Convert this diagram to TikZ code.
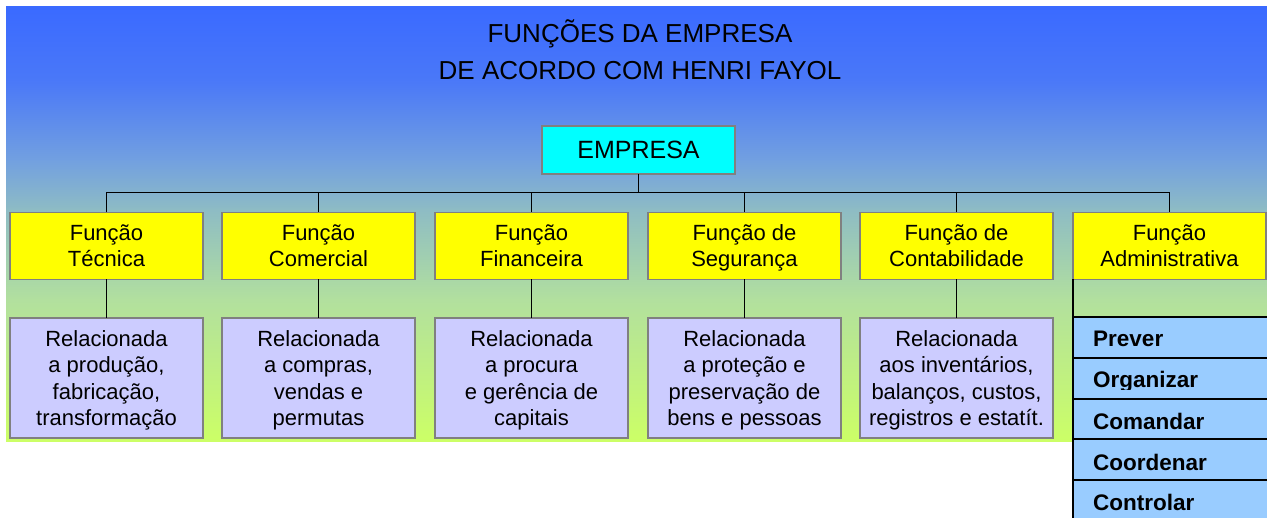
\documentclass[tikz,border=0pt]{standalone}
\usepackage{fontspec}
\setmainfont{Liberation Sans}
\definecolor{bgA}{HTML}{3A6AFF}
\definecolor{bgB}{HTML}{4A78F8}
\definecolor{bgC}{HTML}{72A0E0}
\definecolor{bgD}{HTML}{8EBCC4}
\definecolor{bgE}{HTML}{B2E09E}
\definecolor{bgF}{HTML}{CCFF66}
\definecolor{boxgray}{HTML}{808080}
\definecolor{yel}{HTML}{FFFF00}
\definecolor{lav}{HTML}{CCCCFF}
\definecolor{cyanbox}{HTML}{00FFFF}
\definecolor{rowblue}{HTML}{99CCFF}
\begin{document}
\begin{tikzpicture}[x=1pt,y=-1pt,
  conn/.style={draw=black, line width=1.9pt},
  topbox/.style={draw=boxgray, line width=1.6pt, outer sep=0pt, fill=cyanbox, minimum width=193pt, minimum height=48pt, inner sep=0pt, font=\fontsize{25}{30}\selectfont},
  ybox/.style={draw=boxgray, line width=1.6pt, outer sep=0pt, fill=yel, minimum width=193pt, minimum height=67pt, inner sep=0pt, align=center, font=\fontsize{22}{26}\selectfont, text depth=0pt},
  pbox/.style={draw=boxgray, line width=1.6pt, outer sep=0pt, fill=lav, minimum width=193pt, minimum height=120pt, inner sep=0pt, align=center, font=\fontsize{22}{26.5}\selectfont, text depth=0pt},
  rowbox/.style={draw=black, line width=1.9pt, outer sep=0pt, fill=rowblue, minimum width=215pt, minimum height=41pt, inner sep=0pt, anchor=north west},
  rowtext/.style={anchor=base west, inner sep=0pt, font=\bfseries\fontsize{22.5}{26}\selectfont}
]
\useasboundingbox (0,0) rectangle (1267,518);
\clip (0,0) rectangle (1267,518);
% background gradient
\fill[top color=bgA, bottom color=bgB] (6,7) rectangle (1267,80.5);
\fill[top color=bgB, bottom color=bgC] (6,80) rectangle (1267,160.5);
\fill[top color=bgC, bottom color=bgD] (6,160) rectangle (1267,210.5);
\fill[top color=bgD, bottom color=bgE] (6,210) rectangle (1267,300.5);
\fill[top color=bgE, bottom color=bgF] (6,300) rectangle (1267,442);

% title
\node[align=center, font=\fontsize{26}{37}\selectfont, inner sep=0pt] (title) at (640,49.5) {FUNÇÕES DA EMPRESA\\DE ACORDO COM HENRI FAYOL};

% top box
\node[topbox] (emp) at (638.5,150) {EMPRESA};

% function boxes
\node[ybox] (y1) at (106.5,246) {Função\\Técnica};
\node[ybox] (y2) at (318.5,246) {Função\\Comercial};
\node[ybox] (y3) at (531.5,246) {Função\\Financeira};
\node[ybox] (y4) at (744.5,246) {Função de\\Segurança};
\node[ybox] (y5) at (956.5,246) {Função de\\Contabilidade};
\node[ybox] (y6) at (1169.5,246) {Função\\Administrativa};

% description boxes
\node[pbox] (p1) at (106.5,378) {Relacionada\\a produção,\\fabricação,\\transformação};
\node[pbox] (p2) at (318.5,378) {Relacionada\\a compras,\\vendas e\\permutas};
\node[pbox] (p3) at (531.5,378) {Relacionada\\a procura\\e gerência de\\capitais};
\node[pbox] (p4) at (744.5,378) {Relacionada\\a proteção e\\preservação de\\bens e pessoas};
\node[pbox] (p5) at (956.5,378) {Relacionada\\aos inventários,\\balanços, custos,\\registros e estatít.};

% connectors
\coordinate (bus) at (638.5,192.5);
\draw[conn] (emp.south) -- (bus);
\draw[conn] (y1.north) |- (bus) -| (y6.north);
\foreach \k in {2,3,4,5} \draw[conn] (y\k.north) -- (y\k.north |- bus);
\foreach \k in {1,2,3,4,5} \draw[conn] (y\k.south) -- (p\k.north);

% administrative stack
\node[rowbox] (r1) at (1073,317) {};
\begin{scope}\clip (1060,317) rectangle (1267,350);
\node[rowtext] (t1) at (1093,347) {Prever};\end{scope}
\node[rowbox] (r2) at (1073,358) {};
\begin{scope}\clip (1060,358) rectangle (1267,390);
\node[rowtext] (t2) at (1093,388) {Organizar};\end{scope}
\node[rowbox] (r3) at (1073,399) {};
\begin{scope}\clip (1060,399) rectangle (1267,432);
\node[rowtext] (t3) at (1093,429.5) {Comandar};\end{scope}
\node[rowbox] (r4) at (1073,439) {};
\begin{scope}\clip (1060,439) rectangle (1267,473);
\node[rowtext] (t4) at (1093,470.5) {Coordenar};\end{scope}
\node[rowbox] (r5) at (1073,480) {};
\begin{scope}\clip (1060,480) rectangle (1267,518);
\node[rowtext] (t5) at (1093,511) {Controlar};\end{scope}
\draw[conn] (y6.south west) -- (r1.north west);
\end{tikzpicture}
\end{document}
